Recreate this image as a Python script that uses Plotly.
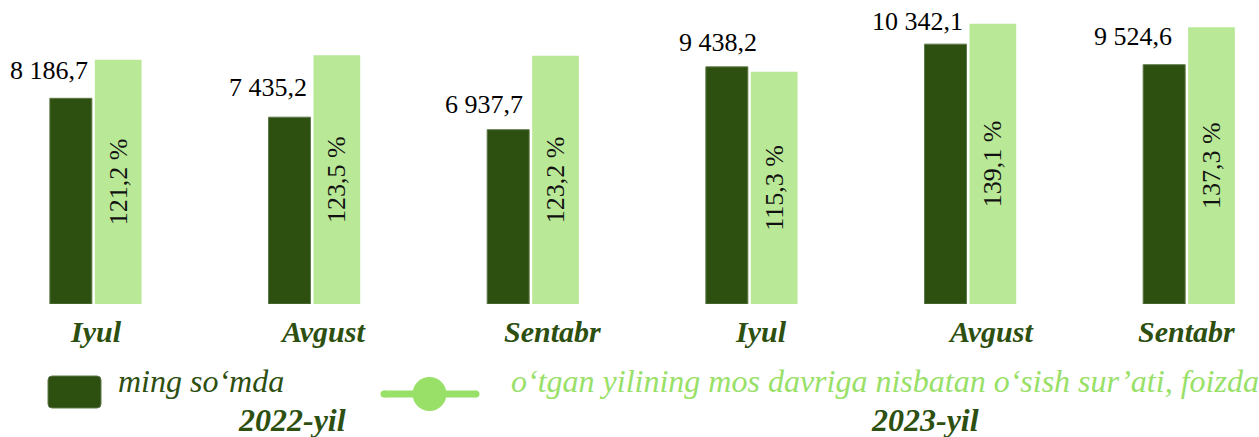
import plotly.graph_objects as go

# ---------------- data ----------------
months = ["Iyul", "Avgust", "Sentabr", "Iyul", "Avgust", "Sentabr"]
years = ["2022-yil", "2023-yil"]
value_ming_som = [8186.7, 7435.2, 6937.7, 9438.2, 10342.1, 9524.6]
growth_pct = [121.2, 123.5, 123.2, 115.3, 139.1, 137.3]
legend_names = ["ming so‘mda",
                "o‘tgan yilining mos davriga nisbatan o‘sish sur’ati, foizda"]


def fmt(v):
    return f"{v:,.1f}".replace(",", " ").replace(".", ",")


value_labels = [fmt(v) for v in value_ming_som]
pct_labels = [fmt(v) + " %" for v in growth_pct]

# ---------------- style ----------------
W, H = 1259, 437
PLOT_BOTTOM = 304
DARK = "#2d4f10"
LIGHT = "#b9e897"
LEGEND_LIGHT = "#98e068"
FONT = "Liberation Serif, Times New Roman, serif"

x = list(range(len(months)))
DARK_OFF, DARK_W = -0.2104, 0.1921
LIGHT_OFF, LIGHT_W = -0.0046, 0.2136
label_xshift = [-1.7, -2, -4.5, 11.4, -1.3, -11.4]
label_yshift = [11, 13.5, 8.5, 8, 6, 11.5]
month_xshift = [0, 8, 19, 9, 20, -2.4]


def px_x(p):
    return p / W


def px_y(p):
    return (PLOT_BOTTOM - p) / PLOT_BOTTOM


fig = go.Figure()
fig.add_trace(go.Bar(
    x=x, y=value_ming_som, width=DARK_W, offset=DARK_OFF,
    marker=dict(color=DARK, line=dict(color="#5f7a4a", width=1)),
    yaxis="y", name=legend_names[0], showlegend=False, hoverinfo="skip",
))
fig.add_trace(go.Bar(
    x=x, y=growth_pct, width=LIGHT_W, offset=LIGHT_OFF,
    marker=dict(color=LIGHT, line=dict(width=0)),
    text=pct_labels, textposition="inside", insidetextanchor="middle",
    textangle=-90, textfont=dict(family=FONT, size=26, color="#111111"),
    yaxis="y2", name=legend_names[1], showlegend=False, hoverinfo="skip",
    cliponaxis=False,
))

annotations = []
for i, (v, lab) in enumerate(zip(value_ming_som, value_labels)):
    annotations.append(dict(
        x=i + DARK_OFF + DARK_W, y=v, xref="x", yref="y", text=lab,
        showarrow=False, xanchor="right", yanchor="bottom",
        xshift=label_xshift[i], yshift=label_yshift[i],
        font=dict(family=FONT, size=26, color="#000000"),
    ))
for i, m in enumerate(months):
    annotations.append(dict(
        x=i, y=px_y(331), xref="x", yref="paper", text=f"<b><i>{m}</i></b>",
        showarrow=False, xanchor="center", yanchor="middle",
        xshift=month_xshift[i],
        font=dict(family=FONT, size=30, color=DARK),
    ))
# legend texts
annotations.append(dict(
    x=px_x(116), y=px_y(381), xref="paper", yref="paper",
    text=f"<i>{legend_names[0]}</i>", showarrow=False,
    xanchor="left", yanchor="middle",
    font=dict(family=FONT, size=32, color=DARK),
))
annotations.append(dict(
    x=px_x(509), y=px_y(381), xref="paper", yref="paper",
    text=f"<i>{legend_names[1]}</i>", showarrow=False,
    xanchor="left", yanchor="middle",
    font=dict(family=FONT, size=32, color=LEGEND_LIGHT),
))
# year labels
for cx, yr in zip([292, 925], years):
    annotations.append(dict(
        x=px_x(cx), y=px_y(420), xref="paper", yref="paper",
        text=f"<b><i>{yr}</i></b>", showarrow=False,
        xanchor="center", yanchor="middle",
        font=dict(family=FONT, size=32, color=DARK),
    ))

# legend symbols
def rounded_rect(x0, y0, x1, y1, r):
    X = lambda p: px_x(p)
    Y = lambda p: px_y(p)
    return (f"M {X(x0 + r)} {Y(y0)} L {X(x1 - r)} {Y(y0)} "
            f"Q {X(x1)} {Y(y0)} {X(x1)} {Y(y0 + r)} "
            f"L {X(x1)} {Y(y1 - r)} Q {X(x1)} {Y(y1)} {X(x1 - r)} {Y(y1)} "
            f"L {X(x0 + r)} {Y(y1)} Q {X(x0)} {Y(y1)} {X(x0)} {Y(y1 - r)} "
            f"L {X(x0)} {Y(y0 + r)} Q {X(x0)} {Y(y0)} {X(x0 + r)} {Y(y0)} Z")


shapes = [
    dict(type="path", xref="paper", yref="paper",
         path=rounded_rect(48, 376, 101, 408, 4),
         fillcolor=DARK, line=dict(color="#5f7a4a", width=1)),
    dict(type="line", xref="paper", yref="paper",
         x0=px_x(384), x1=px_x(476), y0=px_y(394), y1=px_y(394),
         line=dict(color=LEGEND_LIGHT, width=7)),
    dict(type="circle", xref="paper", yref="paper",
         x0=px_x(380.5), x1=px_x(387.5), y0=px_y(390.5), y1=px_y(397.5),
         fillcolor=LEGEND_LIGHT, line=dict(width=0)),
    dict(type="circle", xref="paper", yref="paper",
         x0=px_x(472.5), x1=px_x(479.5), y0=px_y(390.5), y1=px_y(397.5),
         fillcolor=LEGEND_LIGHT, line=dict(width=0)),
    dict(type="circle", xref="paper", yref="paper",
         x0=px_x(412.5), x1=px_x(446.5), y0=px_y(377), y1=px_y(411),
         fillcolor=LEGEND_LIGHT, line=dict(width=0)),
]

fig.update_layout(
    width=W, height=H, autosize=False,
    margin=dict(l=0, r=0, t=0, b=H - PLOT_BOTTOM, pad=0),
    paper_bgcolor="white", plot_bgcolor="white",
    barmode="overlay", showlegend=False,
    xaxis=dict(range=[-0.4384, 5.3194], visible=False, fixedrange=True),
    yaxis=dict(range=[0, 12099], visible=False, fixedrange=True),
    yaxis2=dict(range=[0, 150.87], visible=False, overlaying="y",
                fixedrange=True),
    annotations=annotations, shapes=shapes,
    font=dict(family=FONT),
)

fig.write_html(
    "out.html",
    config={"displayModeBar": False},
    post_script="document.body.style.margin='0px';"
                "document.body.style.overflow='hidden';",
)
